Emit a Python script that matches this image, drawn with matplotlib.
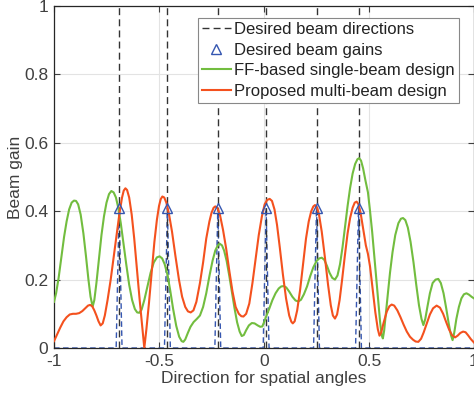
import matplotlib
matplotlib.use('Agg')
import matplotlib.pyplot as plt
import numpy as np

plt.rcParams['font.family'] = ['Liberation Sans', 'DejaVu Sans']
plt.rcParams['font.size'] = 12.5

# desired beams
directions = [-0.69, -0.46, -0.22, 0.01, 0.25, 0.45]
gains = [0.41, 0.41, 0.41, 0.41, 0.41, 0.41]

# FF-based single-beam design
ff_x = [-1.0, -0.99, -0.978, -0.965, -0.952, -0.94, -0.928, -0.916, -0.905, -0.895,
        -0.885, -0.873, -0.86, -0.848, -0.836, -0.826, -0.816, -0.808, -0.798, -0.786,
        -0.774, -0.762, -0.75, -0.738, -0.727, -0.716, -0.705, -0.694, -0.682, -0.67,
        -0.656, -0.642, -0.628, -0.615, -0.604, -0.594, -0.583, -0.57, -0.555, -0.54,
        -0.525, -0.51, -0.497, -0.485, -0.473, -0.46, -0.447, -0.433, -0.418, -0.404,
        -0.392, -0.384, -0.375, -0.362, -0.35, -0.335, -0.32, -0.305, -0.29, -0.275,
        -0.26, -0.245, -0.232, -0.22, -0.211, -0.2, -0.19, -0.178, -0.165, -0.152,
        -0.14, -0.128, -0.116, -0.106, -0.096, -0.085, -0.072, -0.058, -0.045, -0.03,
        -0.018, -0.008, 0.002, 0.012, 0.025, 0.04, 0.055, 0.07, 0.082, 0.094,
        0.106, 0.12, 0.135, 0.15, 0.163, 0.176, 0.19, 0.205, 0.22, 0.235,
        0.25, 0.263, 0.275, 0.287, 0.3, 0.312, 0.325, 0.338, 0.35, 0.362,
        0.374, 0.386, 0.398, 0.41, 0.422, 0.434, 0.445, 0.453, 0.462, 0.472,
        0.483, 0.495, 0.505, 0.515, 0.525, 0.535, 0.545, 0.553, 0.56, 0.566,
        0.572, 0.58, 0.59, 0.6, 0.612, 0.625, 0.64, 0.652, 0.662, 0.673,
        0.685, 0.698, 0.712, 0.725, 0.738, 0.75, 0.759, 0.768, 0.778, 0.79,
        0.803, 0.817, 0.83, 0.842, 0.855, 0.868, 0.88, 0.89, 0.898, 0.906,
        0.916, 0.928, 0.94, 0.952, 0.964, 0.976, 0.988, 1.0]
ff_y = [0.135, 0.16, 0.205, 0.265, 0.325, 0.37, 0.405, 0.425, 0.431, 0.43,
        0.42, 0.39, 0.335, 0.27, 0.2, 0.15, 0.121, 0.14, 0.19, 0.26,
        0.33, 0.385, 0.425, 0.45, 0.459, 0.455, 0.44, 0.41, 0.365, 0.31,
        0.245, 0.185, 0.14, 0.114, 0.104, 0.103, 0.112, 0.14, 0.18, 0.22,
        0.25, 0.265, 0.268, 0.262, 0.245, 0.215, 0.17, 0.115, 0.065, 0.033,
        0.02, 0.018, 0.025, 0.045, 0.062, 0.076, 0.085, 0.095, 0.12, 0.16,
        0.21, 0.255, 0.285, 0.3, 0.305, 0.3, 0.285, 0.255, 0.21, 0.16,
        0.115, 0.075, 0.048, 0.035, 0.038, 0.052, 0.066, 0.073, 0.072, 0.066,
        0.062, 0.063, 0.078, 0.095, 0.115, 0.14, 0.16, 0.174, 0.18, 0.181,
        0.177, 0.165, 0.15, 0.139, 0.136, 0.141, 0.157, 0.18, 0.21, 0.236,
        0.254, 0.262, 0.264, 0.258, 0.24, 0.22, 0.205, 0.2, 0.212, 0.245,
        0.295, 0.355, 0.415, 0.468, 0.51, 0.538, 0.552, 0.555, 0.548, 0.525,
        0.49, 0.455, 0.4, 0.34, 0.27, 0.2, 0.13, 0.075, 0.038, 0.028,
        0.05, 0.1, 0.16, 0.22, 0.28, 0.33, 0.365, 0.378, 0.38, 0.374,
        0.352, 0.31, 0.25, 0.185, 0.125, 0.085, 0.067, 0.085, 0.12, 0.16,
        0.19, 0.2, 0.202, 0.19, 0.16, 0.115, 0.07, 0.038, 0.023, 0.045,
        0.085, 0.12, 0.145, 0.157, 0.16, 0.156, 0.15, 0.145]

# proposed multi-beam design
mb_x = [-1.0, -0.985, -0.97, -0.955, -0.94, -0.925, -0.91, -0.895, -0.88, -0.865,
        -0.85, -0.838, -0.828, -0.818, -0.808, -0.798, -0.788, -0.778, -0.768, -0.758,
        -0.745, -0.73, -0.715, -0.7, -0.688, -0.676, -0.668, -0.66, -0.652, -0.642,
        -0.63, -0.618, -0.605, -0.592, -0.58, -0.57, -0.56, -0.548, -0.535, -0.522,
        -0.51, -0.5, -0.492, -0.484, -0.475, -0.465, -0.452, -0.438, -0.422, -0.405,
        -0.39, -0.375, -0.362, -0.349, -0.336, -0.322, -0.305, -0.29, -0.275, -0.26,
        -0.25, -0.24, -0.232, -0.222, -0.21, -0.195, -0.18, -0.165, -0.15, -0.135,
        -0.12, -0.108, -0.098, -0.085, -0.07, -0.055, -0.04, -0.025, -0.01, 0.003,
        0.015, 0.027, 0.038, 0.05, 0.062, 0.075, 0.09, 0.105, 0.12, 0.13,
        0.137, 0.146, 0.158, 0.172, 0.187, 0.2, 0.213, 0.225, 0.235, 0.243,
        0.252, 0.262, 0.275, 0.29, 0.305, 0.318, 0.328, 0.338, 0.348, 0.36,
        0.372, 0.385, 0.398, 0.41, 0.422, 0.432, 0.441, 0.45, 0.46, 0.472,
        0.485, 0.495, 0.505, 0.518, 0.53, 0.542, 0.55, 0.558, 0.57, 0.585,
        0.597, 0.608, 0.62, 0.635, 0.65, 0.665, 0.68, 0.695, 0.71, 0.722,
        0.735, 0.748, 0.76, 0.775, 0.79, 0.805, 0.822, 0.838, 0.853, 0.868,
        0.882, 0.896, 0.91, 0.922, 0.935, 0.948, 0.96, 0.972, 0.985, 1.0]
mb_y = [0.02, 0.04, 0.06, 0.078, 0.09, 0.098, 0.1, 0.1, 0.102, 0.108,
        0.117, 0.124, 0.126, 0.122, 0.11, 0.095, 0.078, 0.066, 0.072, 0.095,
        0.14, 0.2, 0.27, 0.34, 0.395, 0.44, 0.46, 0.467, 0.462, 0.44,
        0.39, 0.32, 0.23, 0.14, 0.065, 0.0, 0.055, 0.13, 0.22, 0.31,
        0.375, 0.415, 0.435, 0.443, 0.44, 0.425, 0.39, 0.34, 0.27, 0.2,
        0.15, 0.12, 0.107, 0.104, 0.11, 0.135, 0.19, 0.25, 0.32, 0.37,
        0.395, 0.41, 0.414, 0.41, 0.39, 0.345, 0.29, 0.225, 0.165, 0.12,
        0.1, 0.093, 0.092, 0.1, 0.13, 0.19, 0.26, 0.33, 0.385, 0.42,
        0.433, 0.436, 0.43, 0.405, 0.36, 0.295, 0.215, 0.145, 0.095, 0.077,
        0.072, 0.078, 0.11, 0.17, 0.25, 0.32, 0.37, 0.4, 0.414, 0.418,
        0.412, 0.39, 0.34, 0.265, 0.185, 0.125, 0.095, 0.086, 0.098, 0.14,
        0.2, 0.27, 0.335, 0.38, 0.41, 0.425, 0.428, 0.42, 0.395, 0.35,
        0.3, 0.275, 0.238, 0.17, 0.105, 0.055, 0.036, 0.045, 0.075, 0.107,
        0.122, 0.127, 0.124, 0.11, 0.09, 0.068, 0.048, 0.033, 0.024, 0.019,
        0.018, 0.027, 0.045, 0.072, 0.098, 0.116, 0.124, 0.118, 0.1, 0.075,
        0.053, 0.037, 0.031, 0.036, 0.044, 0.048, 0.046, 0.037, 0.026, 0.016]

fig = plt.figure(figsize=(4.74, 4.01), dpi=100)
ax = fig.add_axes([54/474, 53/401, 1 - 54/474, (348 - 6)/401])

gray = '#404040'
# ideal pattern: thin spikes at the desired directions
hw = 0.014
ix = [-1.0]
iy = [0.0]
for d, g in zip(directions, gains):
    ix += [d - hw, d, d + hw]
    iy += [0.0, g, 0.0]
ix.append(1.0)
iy.append(0.0)
ax.plot(ix, iy, color='#3556b0', lw=1.0, ls=(0, (4, 2.5)), zorder=2)

for i, d in enumerate(directions):
    ax.plot([d, d], [0, 1], color='#333333', lw=1.0, ls=(0, (5, 3)), zorder=3,
            label='Desired beam directions' if i == 0 else None)
ax.plot(directions, gains, ls='none', marker='^', ms=7.5, mfc='none',
        mec='#3556b0', mew=1.0, zorder=5, label='Desired beam gains')
ax.plot(ff_x, ff_y, color='#72bd3f', lw=1.5, zorder=4,
        label='FF-based single-beam design')
ax.plot(mb_x, mb_y, color='#f4511e', lw=1.5, zorder=4,
        label='Proposed multi-beam design')

ax.set_xlim(-1, 1)
ax.set_ylim(0, 1)
ax.set_xticks([-1, -0.5, 0, 0.5, 1])
ax.set_xticklabels(['-1', '-0.5', '0', '0.5', '1'])
ax.set_yticks([0, 0.2, 0.4, 0.6, 0.8, 1])
ax.set_yticklabels(['0', '0.2', '0.4', '0.6', '0.8', '1'])
ax.tick_params(direction='in', top=True, right=True, length=4, colors=gray,
               labelsize=12.5, pad=4)
ax.grid(color='#e3e3e3', lw=0.8)
ax.set_axisbelow(True)
for s in ax.spines.values():
    s.set_color('#262626')
    s.set_linewidth(0.9)
ax.set_xlabel('Direction for spatial angles', color=gray, fontsize=12.5, labelpad=2)
ax.set_ylabel('Beam gain', color=gray, fontsize=12.5, labelpad=1)

leg = ax.legend(loc='upper right', bbox_to_anchor=(459/474, 1 - 18/401),
                bbox_transform=fig.transFigure, fontsize=12, frameon=True,
                fancybox=False, edgecolor='#888888', framealpha=1,
                handlelength=1.75, handletextpad=0.2, borderpad=0.25,
                labelspacing=0.33, borderaxespad=0)
leg.get_frame().set_linewidth(0.8)
for t in leg.get_texts():
    t.set_color('#222222')

fig.savefig('out.png', dpi=100)
